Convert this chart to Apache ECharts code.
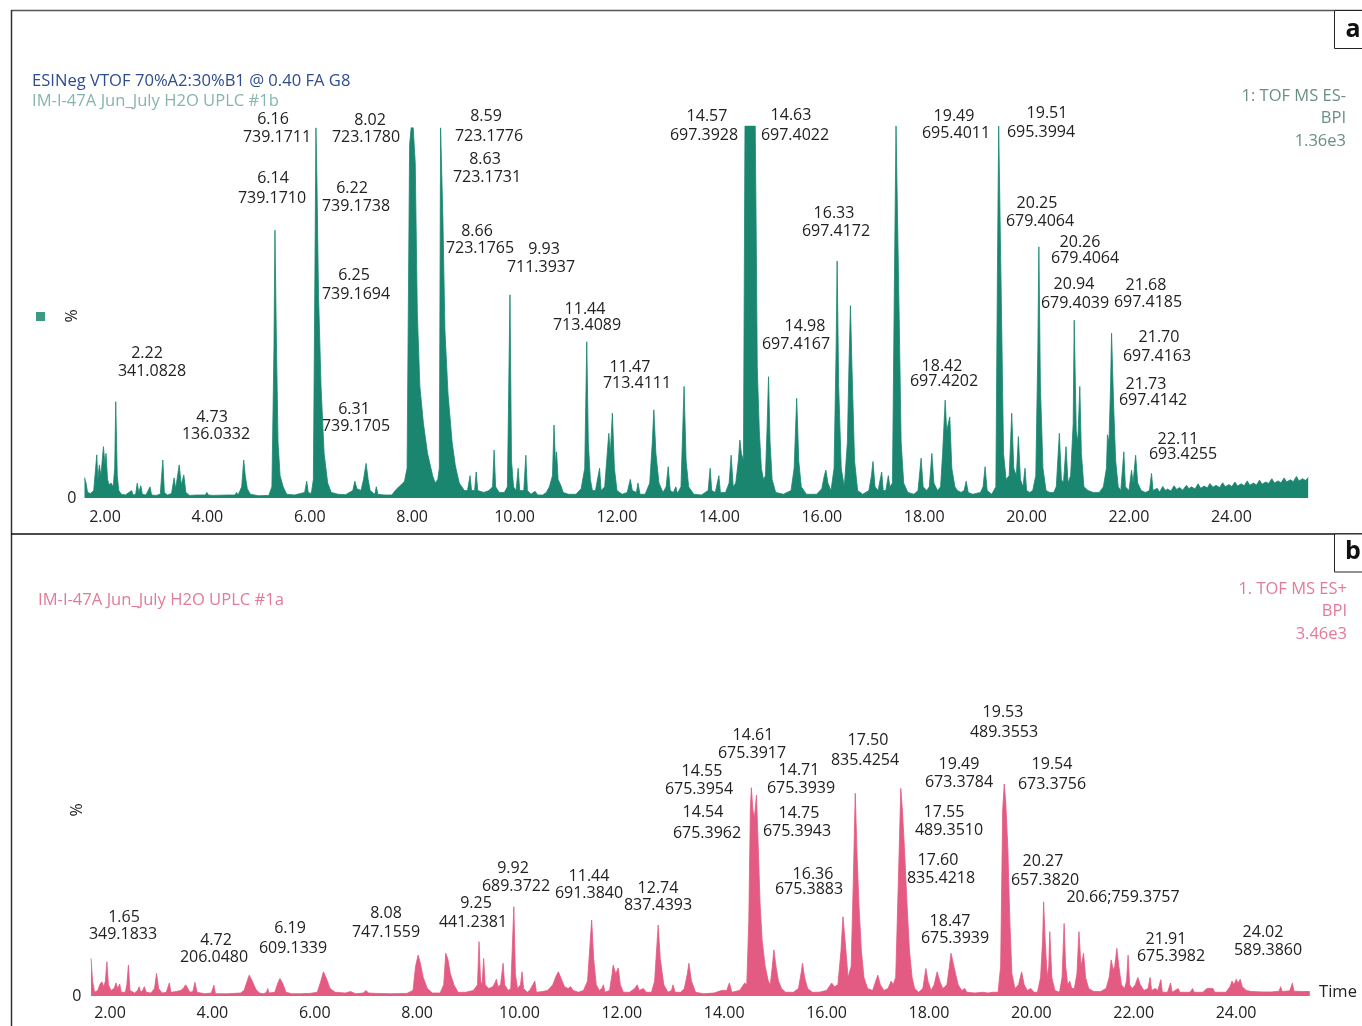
<!DOCTYPE html>
<html><head><meta charset="utf-8">
<script src="https://cdn.jsdelivr.net/npm/echarts@6/dist/echarts.min.js"></script>
<style>html,body{margin:0;padding:0;background:#fff}#c{width:1362px;height:1026px}</style>
</head><body><div id="c"></div>
<script>
// ---------- DATA ----------
const xTicks = [2, 4, 6, 8, 10, 12, 14, 16, 18, 20, 22, 24];
const yTicks = [0];

// Panel a : ESI negative BPI trace [time (min), relative intensity %]
const traceA = [
[1.60,5.5],[1.63,4],[1.66,1.5],[1.72,1.2],[1.78,2],[1.84,11.6],[1.86,5],[1.89,8.9],[1.92,6],[1.97,13.8],[2.00,9],[2.02,12],[2.05,5],[2.08,3.5],[2.12,4],[2.16,3],[2.19,8],[2.21,25.9],[2.24,6],[2.27,2],[2.32,1],[2.40,0.8],[2.52,2],[2.55,0.8],[2.60,1],[2.63,4],[2.66,1.5],[2.70,3.3],[2.73,1],[2.80,0.8],[2.88,3],[2.91,0.8],[3.00,0.7],[3.08,1],[3.13,10.2],[3.16,1.5],[3.22,0.8],[3.30,1.2],[3.35,5.4],[3.38,2.5],[3.45,8.9],[3.49,3.5],[3.54,6.2],[3.58,1.5],[3.65,0.7],[3.80,0.8],[3.96,0.8],[3.99,1.5],[4.02,0.8],[4.10,0.7],[4.40,0.8],[4.54,0.8],[4.57,1.5],[4.60,0.8],[4.67,3],[4.71,10.2],[4.74,6],[4.78,2.5],[4.84,1],[5.00,0.6],[5.20,0.7],[5.26,3],[5.30,40],[5.32,72],[5.345,45],[5.38,15],[5.42,6],[5.48,3],[5.55,1],[5.70,0.8],[5.90,1.5],[5.94,4.5],[5.97,1.5],[6.03,1.2],[6.07,5],[6.10,60],[6.12,99.5],[6.14,85],[6.17,55],[6.22,30],[6.28,12],[6.35,4],[6.42,1.5],[6.55,1],[6.70,0.9],[6.84,2],[6.88,4.5],[6.92,2.5],[7.00,2],[7.05,5],[7.10,9.3],[7.14,5],[7.18,2],[7.27,1],[7.30,3],[7.33,1],[7.45,0.8],[7.60,0.8],[7.70,2.5],[7.78,3.5],[7.85,4.5],[7.90,8],[7.95,95],[7.98,99.5],[8.02,99.5],[8.06,90],[8.10,50],[8.15,30],[8.22,20],[8.30,12],[8.40,6],[8.45,4],[8.50,5],[8.53,8],[8.555,99.5],[8.58,99.5],[8.60,75],[8.64,45],[8.70,28],[8.78,15],[8.84,9],[8.87,7],[8.92,4],[8.97,3],[9.02,2],[9.08,2],[9.13,6],[9.16,2],[9.22,2],[9.25,7],[9.28,2],[9.40,1.5],[9.50,2],[9.57,3],[9.60,12.9],[9.63,3],[9.70,1.5],[9.80,1.5],[9.86,3],[9.91,54.6],[9.94,10],[9.98,3],[10.03,2],[10.07,8],[10.10,2],[10.18,2],[10.22,11.5],[10.25,2],[10.32,1],[10.40,1.8],[10.45,0.8],[10.55,0.8],[10.62,1.5],[10.68,3],[10.74,6],[10.77,19.6],[10.80,9],[10.82,12.4],[10.85,5],[10.90,3.5],[10.95,1.5],[11.05,1],[11.20,1],[11.30,2.5],[11.37,8],[11.41,42],[11.44,15],[11.48,5],[11.52,2],[11.58,2],[11.66,8],[11.69,2],[11.76,3],[11.84,17.4],[11.87,12],[11.91,22.8],[11.95,8],[12.00,2],[12.10,1],[12.20,1.5],[12.26,5],[12.30,2],[12.38,1.5],[12.41,4],[12.45,1],[12.55,1],[12.64,4],[12.69,15],[12.72,23.7],[12.76,12],[12.82,4],[12.90,1.5],[12.96,3],[13.00,8.4],[13.04,2],[13.10,1.5],[13.15,3],[13.18,1.2],[13.25,3],[13.31,30],[13.35,10],[13.40,3],[13.50,1],[13.65,0.8],[13.78,2],[13.82,8],[13.85,2],[13.92,1.5],[13.99,6],[14.02,1.5],[14.12,1.5],[14.19,4],[14.23,11.5],[14.27,3],[14.32,4],[14.37,10],[14.40,15.6],[14.43,12],[14.47,10],[14.50,100],[14.70,100],[14.72,70],[14.74,35],[14.78,18],[14.82,8],[14.86,5],[14.90,6],[14.93,18],[14.96,32.6],[14.99,15],[15.03,5],[15.10,1.5],[15.25,1],[15.40,2],[15.46,8],[15.51,26.8],[15.55,10],[15.60,3],[15.70,1],[15.90,1],[16.00,2.5],[16.05,6],[16.08,7.5],[16.12,4],[16.18,2],[16.24,8],[16.28,40],[16.30,63.7],[16.33,30],[16.38,8],[16.44,3],[16.50,15],[16.53,35],[16.56,51.7],[16.59,35],[16.64,10],[16.70,2],[16.80,1],[16.92,2],[16.97,6],[17.00,9.8],[17.04,3],[17.10,2],[17.17,7],[17.20,2],[17.25,2],[17.30,6],[17.33,3],[17.38,4],[17.42,60],[17.45,100],[17.48,100],[17.51,50],[17.55,15],[17.60,4],[17.68,1.5],[17.80,1],[17.88,2],[17.94,10.7],[17.98,3],[18.05,2],[18.10,3],[18.15,12],[18.19,4],[18.26,2],[18.32,3],[18.36,12],[18.41,26.3],[18.44,18],[18.50,21.8],[18.54,8],[18.60,3],[18.65,2],[18.72,1.5],[18.78,2],[18.82,4.5],[18.86,1.5],[18.95,1],[19.10,1.5],[19.15,3],[19.19,8.4],[19.23,2],[19.32,1],[19.40,3],[19.43,60],[19.455,100],[19.48,100],[19.51,50],[19.55,12],[19.60,5],[19.66,6],[19.71,22.8],[19.75,8],[19.80,6],[19.84,16.5],[19.88,5],[19.93,3],[19.97,8],[20.00,2],[20.06,1.5],[20.12,2],[20.18,6],[20.22,40],[20.24,67.5],[20.27,30],[20.32,8],[20.38,2],[20.45,1.5],[20.53,1.5],[20.58,3],[20.64,17.4],[20.68,5],[20.72,4],[20.77,13.8],[20.81,4],[20.86,6],[20.91,20],[20.93,47.8],[20.97,18],[21.00,15],[21.04,30],[21.07,12],[21.12,3],[21.20,2],[21.30,1.5],[21.42,1.5],[21.50,3],[21.56,8],[21.58,17],[21.61,15],[21.64,30],[21.66,44.3],[21.70,25],[21.74,10],[21.79,3],[21.84,2],[21.90,12.4],[21.93,3],[22.00,2],[22.05,7.5],[22.08,4],[22.13,11.5],[22.17,4],[22.24,2],[22.32,1.5],[22.40,2],[22.44,6.6],[22.47,2],
[22.50,1.5],[22.55,2.6],[22.60,1.6],[22.66,3.1],[22.71,2.0],[22.75,2.4],[22.82,1.9],[22.88,3.3],[22.93,2.3],[22.99,2.8],[23.05,2.1],[23.12,3.4],[23.17,2.5],[23.22,3.0],[23.29,2.4],[23.35,3.8],[23.40,2.6],[23.47,3.2],[23.53,2.7],[23.58,3.9],[23.64,2.9],[23.70,3.4],[23.77,2.8],[23.83,4.1],[23.88,3.0],[23.95,3.6],[24.01,3.1],[24.07,4.3],[24.12,3.2],[24.19,3.8],[24.25,3.3],[24.31,4.6],[24.36,3.4],[24.43,4.0],[24.49,3.5],[24.55,4.8],[24.60,3.7],[24.67,4.3],[24.73,3.9],[24.79,5.2],[24.84,4.0],[24.91,4.6],[24.97,4.1],[25.03,5.4],[25.08,4.3],[25.15,4.9],[25.21,4.4],[25.27,5.8],[25.32,4.6],[25.39,5.2],[25.45,4.7],[25.50,5.5]
];

// Panel b : ESI positive BPI trace [time (min), relative intensity %]
const traceB = [
[1.63,10.1],[1.66,4],[1.70,1],[1.76,1.5],[1.80,3],[1.84,3.8],[1.88,2.5],[1.91,4],[1.94,9.2],[1.97,3],[2.02,1.5],[2.08,2],[2.12,3.5],[2.15,2],[2.19,3.2],[2.22,1],[2.30,1],[2.33,3],[2.36,8.3],[2.39,1.5],[2.48,0.8],[2.54,1.5],[2.57,2.5],[2.60,1],[2.64,1.5],[2.67,2.5],[2.71,1],[2.80,0.8],[2.87,2],[2.91,6.1],[2.95,2],[3.02,0.8],[3.10,1],[3.16,3.5],[3.19,1],[3.30,1.2],[3.38,1.5],[3.43,2],[3.48,3],[3.52,2],[3.56,1],[3.62,1.2],[3.66,3.7],[3.70,1],[3.85,0.6],[3.98,0.8],[4.03,2.9],[4.06,0.6],[4.30,0.6],[4.55,0.8],[4.62,1.5],[4.68,4],[4.72,5.6],[4.78,4],[4.85,1.8],[4.92,0.8],[5.00,0.6],[5.06,1],[5.08,2],[5.11,0.8],[5.22,1],[5.28,3.5],[5.32,4.7],[5.37,3.5],[5.44,1],[5.55,0.6],[5.70,0.6],[5.90,0.7],[6.05,1],[6.12,4],[6.17,6.5],[6.22,5],[6.30,2],[6.40,1],[6.60,0.8],[6.70,1.2],[6.80,0.6],[6.95,0.8],[7.00,1.5],[7.05,0.8],[7.20,0.7],[7.50,0.6],[7.80,0.7],[7.92,1.5],[7.97,8],[8.02,11],[8.06,9],[8.12,5],[8.20,2],[8.30,0.8],[8.45,0.8],[8.52,3],[8.56,11.5],[8.60,10],[8.65,6],[8.72,3],[8.80,1],[8.95,1],[9.10,1.5],[9.18,3],[9.21,14.6],[9.24,4],[9.27,3],[9.30,10.1],[9.33,3],[9.40,2],[9.48,2.5],[9.52,3.5],[9.55,4.5],[9.58,2.5],[9.63,3],[9.68,8.8],[9.71,3],[9.78,1.5],[9.83,2],[9.89,24],[9.92,6],[9.96,2],[10.02,3],[10.05,6.5],[10.08,2],[10.15,1],[10.20,1.5],[10.30,4],[10.33,1],[10.45,1.2],[10.55,1.5],[10.65,3],[10.72,5.5],[10.76,6.5],[10.82,4.5],[10.88,2.5],[10.95,2],[11.00,2.5],[11.05,1.5],[11.15,1],[11.25,1.5],[11.33,4],[11.41,20.4],[11.45,10],[11.50,3],[11.56,1.5],[11.61,2],[11.64,3],[11.67,1],[11.76,1.5],[11.81,6],[11.83,8.3],[11.88,6],[11.93,7.5],[11.97,3],[12.03,1],[12.15,1],[12.25,2],[12.30,3],[12.34,1.5],[12.42,2],[12.48,1],[12.58,1],[12.64,4],[12.71,19.1],[12.75,10],[12.82,3],[12.90,1],[12.97,1.5],[13.00,3],[13.04,1],[13.15,1],[13.22,2],[13.28,6],[13.31,8.8],[13.36,4],[13.44,1],[13.60,0.6],[13.80,0.8],[13.95,1.5],[14.05,1.5],[14.10,3.5],[14.15,1],[14.30,1.5],[14.40,3.5],[14.44,3],[14.48,20],[14.51,50],[14.53,56],[14.56,50],[14.59,48],[14.63,54],[14.66,42],[14.70,25],[14.74,15],[14.80,8],[14.86,4],[14.90,3],[14.94,8],[14.97,12.4],[15.01,8],[15.06,4],[15.12,2],[15.20,1],[15.35,1],[15.45,2],[15.50,6],[15.53,8.8],[15.57,5],[15.63,2],[15.72,1],[15.85,1],[16.00,1.5],[16.05,2.5],[16.10,3.5],[16.15,2.5],[16.22,3],[16.28,12],[16.32,21.3],[16.36,15],[16.42,5],[16.48,8],[16.52,30],[16.56,54.5],[16.59,40],[16.63,25],[16.68,12],[16.73,5],[16.80,2],[16.90,1.5],[16.96,4],[17.00,5.6],[17.05,3],[17.12,1.5],[17.20,2],[17.26,4],[17.30,3],[17.35,5],[17.40,30],[17.45,55.8],[17.48,50],[17.52,40],[17.57,25],[17.62,12],[17.67,5],[17.72,2],[17.80,1],[17.88,2],[17.94,7.4],[17.98,4],[18.04,1.5],[18.10,3],[18.16,6.5],[18.21,4],[18.27,2],[18.35,3],[18.40,8],[18.43,11.5],[18.47,9],[18.52,6],[18.57,3],[18.64,1.5],[18.70,2],[18.74,1],[18.90,0.8],[19.05,1],[19.15,0.8],[19.25,1],[19.35,1],[19.40,8],[19.44,50],[19.47,57],[19.50,52],[19.54,40],[19.58,20],[19.62,6],[19.68,2],[19.75,3],[19.81,6.5],[19.86,3],[19.92,1.5],[19.99,2],[20.05,1],[20.12,1],[20.18,5],[20.22,15],[20.24,25.3],[20.27,15],[20.31,5],[20.34,8],[20.36,17.3],[20.40,5],[20.46,1.5],[20.55,1],[20.60,5],[20.64,19.5],[20.67,8],[20.71,3],[20.75,4],[20.79,2],[20.84,2],[20.89,6],[20.93,17.3],[20.97,8],[21.02,11.5],[21.06,5],[21.12,2],[21.22,1.2],[21.35,1.2],[21.46,2],[21.52,5],[21.56,9.7],[21.60,7],[21.63,8],[21.67,12.8],[21.71,8],[21.76,3],[21.82,2],[21.86,4],[21.89,11],[21.92,3],[21.97,2],[22.03,3],[22.08,5],[22.13,3],[22.20,1.5],[22.28,2],[22.32,5],[22.35,1.5],[22.42,2],[22.47,1.5],[22.53,4.4],[22.56,1],[22.66,1],[22.72,3.5],[22.75,1],[22.87,2],[22.90,1],[23.10,1],[23.15,2],[23.18,1],[23.35,1],[23.43,2],[23.46,1.5],[23.50,2],[23.55,2],[23.58,1],[23.80,1],[23.88,2.5],[23.92,4],[23.96,3],[24.00,4.5],[24.04,3.5],[24.08,4.5],[24.12,2.5],[24.20,1.5],[24.30,1.2],[24.50,1.1],[24.70,1.1],[24.84,1.3],[24.87,2.5],[24.90,1.2],[25.05,1.4],[25.10,3.5],[25.13,1.3],[25.30,1.2],[25.44,1.2]
];

// Peak annotations (retention time / m/z), one entry per text line
const labelTextA = ['6.16','739.1711','8.02','723.1780','6.14','739.1710','6.22','739.1738','6.25','739.1694','6.31','739.1705',
  '2.22','341.0828','4.73','136.0332','8.59','723.1776','8.63','723.1731','8.66','723.1765','9.93','711.3937',
  '11.44','713.4089','11.47','713.4111','14.57','697.3928','14.63','697.4022','16.33','697.4172','14.98','697.4167',
  '19.49','695.4011','19.51','695.3994','20.25','679.4064','20.26','679.4064','20.94','679.4039','21.68','697.4185',
  '21.70','697.4163','21.73','697.4142','22.11','693.4255','18.42','697.4202'];
const labelTextB = ['1.65','349.1833','4.72','206.0480','6.19','609.1339','8.08','747.1559','9.25','441.2381','9.92','689.3722',
  '11.44','691.3840','12.74','837.4393','14.61','675.3917','14.55','675.3954','14.54','675.3962','14.71','675.3939',
  '14.75','675.3943','16.36','675.3883','17.50','835.4254','19.53','489.3553','19.49','673.3784','19.54','673.3756',
  '17.55','489.3510','17.60','835.4218','18.47','675.3939','20.27','657.3820','20.66;759.3757','21.91','675.3982',
  '24.02','589.3860'];

// ---------- LAYOUT (pixel positions of annotation lines) ----------
const labelPosA = [[273,119],[277,137],[370,120],[366,137],[273,178],[272,198],[352,188],[356,206],[354,275],[356,294],[354,409],[356,426],
  [147,353],[152,371],[212,417],[216,434],[486,116],[489,136],[485,159],[487,177],[477,231],[480,248],[544,249],[541,267],
  [585,309],[587,325],[630,367],[637,383],[707,116],[704,135],[791,115],[795,135],[834,213],[836,231],[805,326],[796,344],
  [954,116],[956,133],[1047,113],[1041,132],[1037,203],[1040,221],[1080,242],[1085,258],[1074,284],[1075,303],[1146,285],[1148,302],
  [1159,337],[1157,356],[1146,384],[1153,400],[1178,439],[1183,454],[942,366],[944,381]];
const labelPosB = [[124,917],[123,934],[216,940],[214,957],[290,928],[293,948],[386,913],[386,932],[476,903],[473,922],[513,868],[516,886],
  [589,876],[589,893],[658,888],[658,905],[753,735],[752,753],[702,771],[699,789],[703,812],[707,833],[799,770],[801,788],
  [799,813],[797,831],[813,874],[809,889],[868,740],[865,760],[1003,712],[1004,732],[959,764],[959,782],[1052,764],[1052,784],
  [944,812],[949,830],[938,860],[941,878],[950,921],[955,938],[1043,861],[1045,880],[1123,897],[1166,939],[1171,956],
  [1263,932],[1268,950]];

const FONT = '"Open Sans", "Noto Sans", sans-serif';
const GREEN = '#1a8670';
const PINK = '#e35a82';

const chart = echarts.init(document.getElementById('c'), null, {renderer: 'canvas'});

function txt(text, x, y, color, size, align, extra, weight) {
  return Object.assign({
    type: 'text', x: x, y: y, z: 100,
    style: {text: text, x: 0, y: 0, fill: color, font: (weight ? weight + ' ' : '') + size + 'px ' + FONT,
      textAlign: align || 'center', align: align || 'center',
      textVerticalAlign: 'middle', verticalAlign: 'middle'}
  }, extra || {});
}
function line(x1, y1, x2, y2, color, w) {
  return {type: 'line', z: 90, shape: {x1, y1, x2, y2}, style: {stroke: color, lineWidth: w}};
}

const graphics = [];
labelTextA.forEach((t, i) => graphics.push(txt(t, labelPosA[i][0], labelPosA[i][1], '#222', 16)));
labelTextB.forEach((t, i) => graphics.push(txt(t, labelPosB[i][0], labelPosB[i][1], '#222', 16)));

// frames
graphics.push(line(11, 10.5, 1362, 10.5, '#555', 1.5));
graphics.push(line(11.5, 10, 11.5, 1026, '#333', 1.5));
graphics.push(line(11, 534, 1362, 534, '#111', 1.5));
graphics.push({type: 'rect', z: 95, shape: {x: 1334.5, y: 10.5, width: 40, height: 38}, style: {fill: '#fff', stroke: '#222', lineWidth: 1}});
graphics.push({type: 'rect', z: 95, shape: {x: 1334.5, y: 534, width: 40, height: 38}, style: {fill: '#fff', stroke: '#222', lineWidth: 1}});
graphics.push(txt('a', 1353, 30, '#111', 25, 'center', null, 'bold'));
graphics.push(txt('b', 1353, 552, '#111', 25, 'center', null, 'bold'));

// headers
graphics.push(txt('ESINeg VTOF 70%A2:30%B1 @ 0.40 FA G8', 32, 81, '#2e4d8f', 16.6, 'left'));
graphics.push(txt('IM-I-47A Jun_July H2O UPLC #1b', 32, 101, '#86b5ae', 16.6, 'left'));
graphics.push(txt('1: TOF MS ES-', 1346, 96, '#6a8f83', 16.5, 'right'));
graphics.push(txt('BPI', 1346, 118, '#6a8f83', 16.5, 'right'));
graphics.push(txt('1.36e3', 1346, 141, '#6a8f83', 16.5, 'right'));
graphics.push(txt('IM-I-47A Jun_July H2O UPLC #1a', 38, 600, '#e27a98', 16.6, 'left'));
graphics.push(txt('1. TOF MS ES+', 1347, 589, '#e27a98', 16.5, 'right'));
graphics.push(txt('BPI', 1347, 611, '#e27a98', 16.5, 'right'));
graphics.push(txt('3.46e3', 1347, 634, '#e27a98', 16.5, 'right'));
graphics.push(txt('Time', 1338, 992, '#222', 16.5, 'center'));
// % labels
graphics.push(txt('%', 72, 316, '#222', 16, 'center', {rotation: Math.PI / 2}));
graphics.push(txt('%', 77, 810, '#222', 16, 'center', {rotation: Math.PI / 2}));
graphics.push({type: 'rect', z: 95, shape: {x: 36, y: 312, width: 9, height: 9}, style: {fill: '#3c9a82'}});

const xAxisCommon = {
  type: 'value', min: 1.6, max: 25.6,
  axisLine: {show: false}, axisTick: {show: false}, splitLine: {show: false},
  axisLabel: {customValues: xTicks, formatter: v => v.toFixed(2), color: '#222', fontSize: 16, fontFamily: FONT}
};
const yAxisCommon = {
  type: 'value', min: 0, max: 100,
  axisLine: {show: false}, axisTick: {show: false}, splitLine: {show: false},
  axisLabel: {customValues: yTicks, color: '#222', fontSize: 16, fontFamily: FONT, margin: 8}
};

chart.setOption({
  animation: false,
  backgroundColor: '#fff',
  grid: [
    {left: 84.5, right: 48.7, top: 126, height: 372, outerBoundsMode: 'none', containLabel: false},
    {left: 89.5, right: 44, top: 624, height: 372, outerBoundsMode: 'none', containLabel: false}
  ],
  xAxis: [
    Object.assign({gridIndex: 0}, xAxisCommon, {axisLabel: Object.assign({}, xAxisCommon.axisLabel, {margin: 11})}),
    Object.assign({gridIndex: 1}, xAxisCommon, {axisLabel: Object.assign({}, xAxisCommon.axisLabel, {margin: 9})})
  ],
  yAxis: [Object.assign({gridIndex: 0}, yAxisCommon), Object.assign({gridIndex: 1}, yAxisCommon)],
  series: [
    {type: 'line', xAxisIndex: 0, yAxisIndex: 0, data: traceA, showSymbol: false, symbol: 'none', clip: true,
      lineStyle: {color: GREEN, width: 0.8}, areaStyle: {color: GREEN, opacity: 1}, silent: true},
    {type: 'line', xAxisIndex: 1, yAxisIndex: 1, data: traceB, showSymbol: false, symbol: 'none', clip: true,
      lineStyle: {color: PINK, width: 0.8}, areaStyle: {color: PINK, opacity: 1}, silent: true}
  ],
  graphic: graphics
});
</script>
</body></html>
